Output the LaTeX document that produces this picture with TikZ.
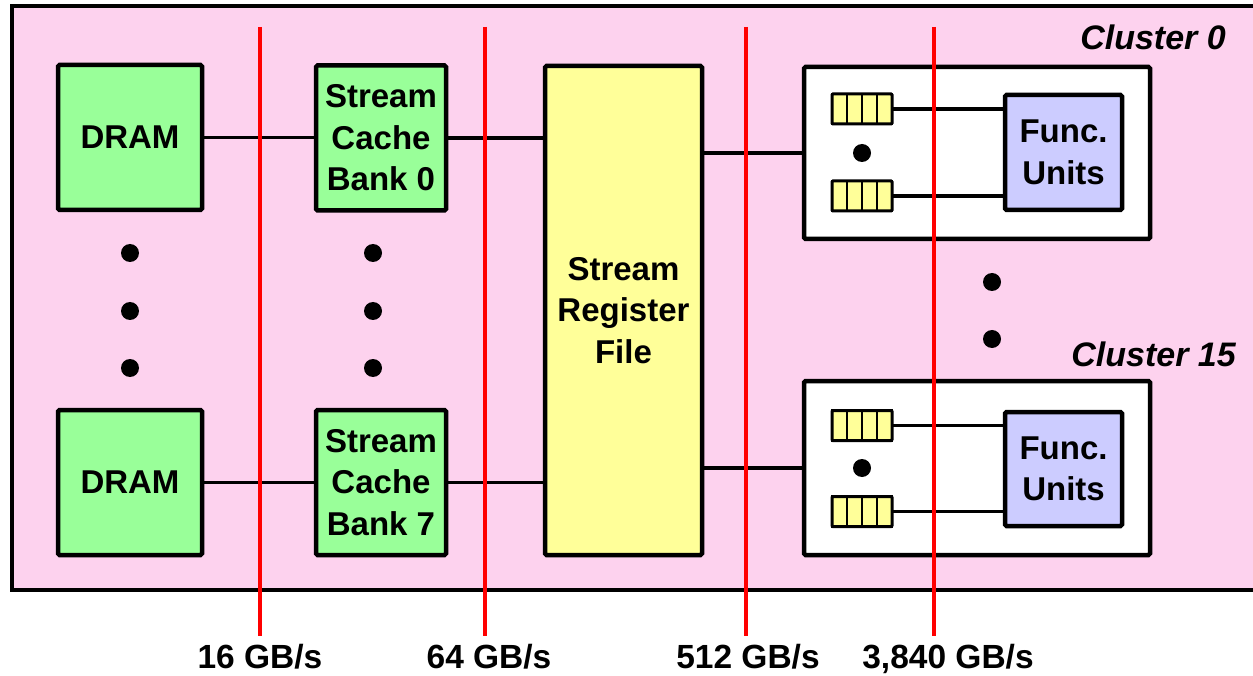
\documentclass[tikz,border=0pt]{standalone}
\usepackage{fontspec}
\setmainfont{Liberation Sans}
\begin{document}
\begin{tikzpicture}[x=1pt,y=-1pt,
  box/.style={draw=black,line width=4.5pt,rounded corners=1.5pt,inner sep=0pt,
    font=\bfseries\fontsize{33}{41.5}\selectfont,align=center},
  greenbox/.style={box,fill={rgb,255:red,153;green,255;blue,153}},
  wire/.style={draw=black,line width=3.5pt},
  redline/.style={draw=red,line width=4pt},
  bigdot/.style={circle,fill=black,inner sep=0pt,minimum size=18pt},
  rfcell/.style={draw=black,line width=2.5pt,fill={rgb,255:red,255;green,255;blue,153},inner sep=0pt,minimum width=15pt,minimum height=30pt},
  bw/.style={font=\bfseries\fontsize{33.5}{38}\selectfont,anchor=base,inner sep=0pt},
  clabel/.style={font=\bfseries\itshape\fontsize{34}{38}\selectfont,anchor=base east,inner sep=0pt}
]
\useasboundingbox (0,0) rectangle (1253,676);
% outer
\draw[line width=4.5pt,fill={rgb,255:red,253;green,210;blue,238}] (12,6) rectangle (1270,590);
% DRAMs
\node[greenbox,minimum width=144pt,minimum height=145pt] (d0) at (130,137.5) {DRAM};
\node[greenbox,minimum width=144pt,minimum height=145pt] (d7) at (130,482.5) {DRAM};
% caches
\node[greenbox,minimum width=130pt,minimum height=145pt] (c0) at (381,138) {Stream\\Cache\\Bank 0};
\node[greenbox,minimum width=130pt,minimum height=145pt] (c7) at (381,482.5) {Stream\\Cache\\Bank 7};
% SRF
\node[box,fill={rgb,255:red,255;green,255;blue,153},minimum width=157pt,minimum height=489pt] (srf) at (623.5,310.5) {Stream\\Register\\File};
% clusters
\node[box,fill=white,minimum width=346pt,minimum height=172pt] (cl0) at (977,153) {};
\node[box,fill=white,minimum width=346pt,minimum height=174pt] (cl15) at (977,468) {};
\node[clabel] (l0) at (1226,50) {Cluster 0};
\node[clabel] (l15) at (1236,366) {Cluster 15};
% func units
\node[box,fill={rgb,255:red,204;green,204;blue,255},minimum width=117pt,minimum height=115pt] (f0) at (1063.5,152.5) {Func.\\Units};
\node[box,fill={rgb,255:red,204;green,204;blue,255},minimum width=117pt,minimum height=114pt] (f15) at (1063.5,469) {Func.\\Units};
% register icons
\foreach \n/\y in {a/109,b/196,c/425.5,d/511.5}{
  \foreach \i in {0,1,2,3}{
    \node[rfcell] (r\n\i) at (839.5+15*\i,\y) {};
  }
  \draw[line width=3pt,rounded corners=1pt] (832,\y-15) rectangle (892,\y+15);
}
% wires
\draw[wire] (d0.east) -- (c0.west |- d0.east);
\draw[wire] (d7.east) -- (c7.west |- d7.east);
\draw[wire] (c0.east) -- (srf.west |- c0.east);
\draw[wire] (c7.east) -- (srf.west |- c7.east);
\draw[wire] (srf.east |- cl0.west) -- (cl0.west);
\draw[wire] (srf.east |- cl15.west) -- (cl15.west);
\draw[wire] (ra3.east) -- (f0.west |- ra3.east);
\draw[wire] (rb3.east) -- (f0.west |- rb3.east);
\draw[wire] (rc3.east) -- (f15.west |- rc3.east);
\draw[wire] (rd3.east) -- (f15.west |- rd3.east);
% dots
\foreach \y/\k in {253/1,311/2,368/3}{
  \node[bigdot] (dd\k) at (130,\y) {};
  \node[bigdot] (cd\k) at (373,\y) {};
}
\node[bigdot] (k1) at (992,282) {};
\node[bigdot] (k2) at (992,339) {};
\node[bigdot] (s0) at (862,153) {};
\node[bigdot] (s15) at (862,468) {};
% red lines and labels
\foreach \x/\t/\lx/\n in {260/{16 GB/s}/260/a,485/{64 GB/s}/489/b,746/{512 GB/s}/748/c,934/{3,840 GB/s}/948/d}{
  \coordinate (top\n) at (\x,27);
  \coordinate (bot\n) at (\x,636);
  \draw[redline] (top\n) -- (bot\n);
  \node[bw] (bw\n) at (\lx,668) {\t};
}
\end{tikzpicture}
\end{document}
